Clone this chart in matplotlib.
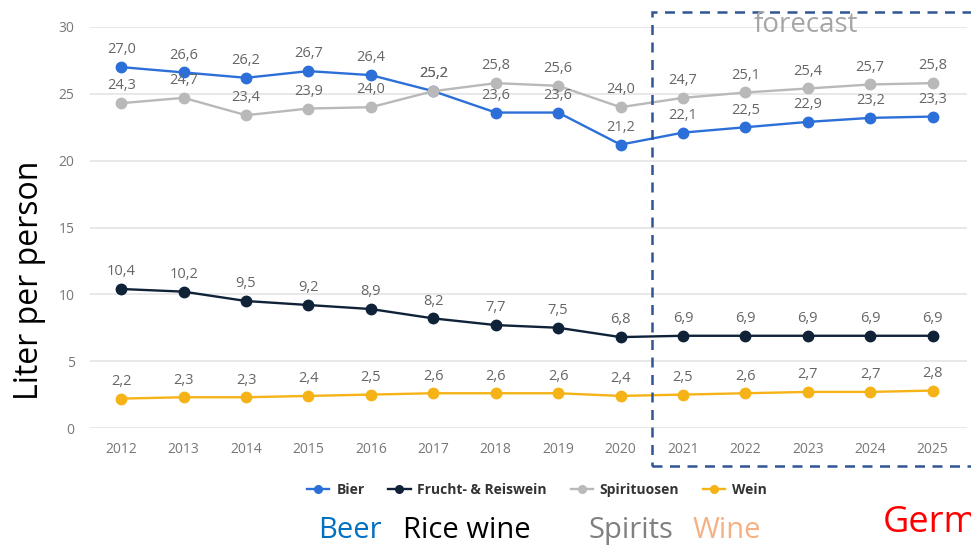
import matplotlib
matplotlib.use("Agg")
import matplotlib.pyplot as plt
from matplotlib.patches import Rectangle
from matplotlib.lines import Line2D

plt.rcParams['font.family'] = ['Open Sans', 'DejaVu Sans']

years = [2012, 2013, 2014, 2015, 2016, 2017, 2018, 2019, 2020, 2021, 2022, 2023, 2024, 2025]
bier = [27.0, 26.6, 26.2, 26.7, 26.4, 25.2, 23.6, 23.6, 21.2, 22.1, 22.5, 22.9, 23.2, 23.3]
frucht = [10.4, 10.2, 9.5, 9.2, 8.9, 8.2, 7.7, 7.5, 6.8, 6.9, 6.9, 6.9, 6.9, 6.9]
spirituosen = [24.3, 24.7, 23.4, 23.9, 24.0, 25.2, 25.8, 25.6, 24.0, 24.7, 25.1, 25.4, 25.7, 25.8]
wein = [2.2, 2.3, 2.3, 2.4, 2.5, 2.6, 2.6, 2.6, 2.4, 2.5, 2.6, 2.7, 2.7, 2.8]
y_ticks = [0, 5, 10, 15, 20, 25, 30]

series = [
    ("Bier", bier, "#2d6fd8"),
    ("Frucht- & Reiswein", frucht, "#0f2238"),
    ("Spirituosen", spirituosen, "#b9b9b9"),
    ("Wein", wein, "#f6b318"),
]

W, H = 971, 546
fig = plt.figure(figsize=(W / 100, H / 100), dpi=100)
ax = fig.add_axes([90 / W, 1 - 428 / H, (967 - 90) / W, (428 - 27) / H])

for name, vals, col in series:
    ax.plot(years, vals, color=col, lw=1.7, marker='o', ms=7.5, zorder=3)

# value labels above every point
for name, vals, col in series:
    for x, v in zip(years, vals):
        ax.annotate(f"{v:.1f}".replace('.', ','), (x, v), xytext=(0, 7),
                    textcoords='offset points', ha='center', va='bottom',
                    fontsize=10.5, color='#666666', zorder=4)

ax.set_xlim(2011.5, 2025.55)
ax.set_ylim(0, 30)
ax.set_xticks(years)
ax.set_xticklabels([str(y) for y in years])
ax.set_yticks(y_ticks)
ax.tick_params(axis='both', length=0, labelsize=10, labelcolor='#777777')
ax.tick_params(axis='x', pad=10)
ax.tick_params(axis='y', pad=11)
ax.grid(axis='y', color='#e4e4e4', lw=1.2)
ax.set_axisbelow(True)
for s in ax.spines.values():
    s.set_visible(False)

# legend below the plot
handles = [Line2D([0], [0], color=c, lw=1.7, marker='o', ms=5.5) for _, _, c in series]
leg = fig.legend(handles, [n for n, _, _ in series], loc='center', ncol=4,
                 bbox_to_anchor=(537 / W, 1 - 490 / H), frameon=False,
                 handlelength=1.6, handletextpad=0.5, columnspacing=1.7,
                 prop={'size': 10, 'weight': 'bold'})
for t in leg.get_texts():
    t.set_color('#333333')

# forecast region
fig.add_artist(Rectangle((652 / W, 1 - 466 / H), 340 / W, (466 - 12) / H,
                         transform=fig.transFigure, fill=False,
                         edgecolor='#2f5597', lw=1.8, ls=(0, (4, 3))))
fig.text(806 / W, 1 - 32 / H, "forecast", ha='center', va='baseline',
         fontsize=20, color='#a6a6a6')

fig.text(30 / W, 1 - 280 / H, "Liter per person", rotation=90, ha='center',
         va='center', fontsize=23, color='black')

fig.text(318 / W, 8 / H, "Beer", fontsize=21, color='#0070c0', va='baseline')
fig.text(403 / W, 8 / H, "Rice wine", fontsize=21, color='black', va='baseline')
fig.text(588 / W, 8 / H, "Spirits", fontsize=21, color='#808080', va='baseline')
fig.text(693 / W, 8 / H, "Wine", fontsize=21, color='#f4b183', va='baseline')
fig.text(883 / W, 14 / H, "Germany", fontsize=26, color='red', va='baseline')

fig.savefig("out.png", dpi=100)
